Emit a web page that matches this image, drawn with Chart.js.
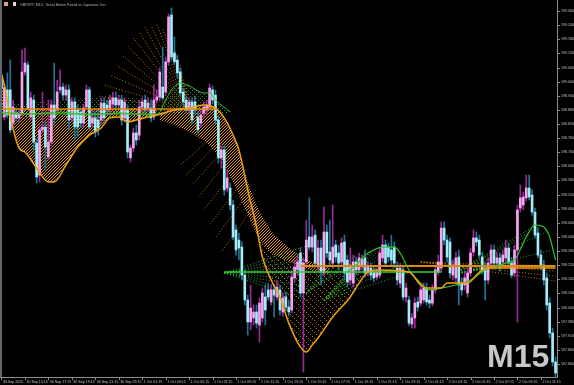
<!DOCTYPE html>
<html>
<head>
<meta charset="utf-8">
<title>GBPJPY, M15</title>
<script src="https://cdn.jsdelivr.net/npm/chart.js@4.4.1/dist/chart.umd.min.js"></script>
<style>
  html, body { margin: 0; padding: 0; background: #000; }
  #chart { display: block; }
</style>
</head>
<body>
<canvas id="chart" width="574" height="385"></canvas>
<script>
// GBPJPY M15 candles, first bar 30 Sep 13:15
const open = [
  199.007,198.850,198.965,198.965,198.824,198.867,198.846,198.867,199.041,199.071,
  198.850,198.922,198.739,198.603,198.795,198.807,198.680,198.744,198.901,198.880,
  198.965,198.977,198.943,198.965,198.846,198.914,198.880,198.871,198.824,198.892,
  198.965,198.824,198.846,198.837,198.837,198.909,198.901,198.880,198.905,198.931,
  198.901,198.922,198.846,198.880,198.676,198.718,198.782,198.773,198.892,198.922,
  198.888,198.888,198.850,198.922,198.935,198.977,198.956,199.084,199.283,199.122,
  199.092,199.041,198.956,198.922,198.880,198.914,198.914,198.850,198.824,198.867,
  198.880,198.892,198.965,198.943,198.837,198.676,198.710,198.548,198.548,198.476,
  198.370,198.327,198.297,198.178,198.072,197.979,197.996,198.021,197.966,197.996,
  198.085,198.115,198.064,198.115,198.085,198.115,198.021,198.085,198.042,198.030,
  198.166,198.200,198.272,198.102,198.234,198.340,198.297,198.348,198.212,198.293,
  198.187,198.361,198.276,198.229,198.306,198.272,198.234,198.319,198.242,198.157,
  198.144,198.234,198.200,198.221,198.251,198.191,198.208,198.191,198.170,198.178,
  198.251,198.306,198.297,198.285,198.297,198.208,198.144,198.200,198.085,198.072,
  197.970,197.996,198.064,198.059,198.072,198.123,198.072,198.059,198.115,198.191,
  198.208,198.378,198.327,198.319,198.178,198.166,198.255,198.144,198.136,198.102,
  198.187,198.276,198.336,198.327,198.255,198.208,198.157,198.229,198.285,198.229,
  198.251,198.234,198.251,198.293,198.229,198.187,198.285,198.463,198.476,198.506,
  198.548,198.518,198.446,198.357,198.263,198.221,198.166,198.059,197.932,197.809
]
const high = [
  199.028,198.986,199.037,199.092,198.922,198.888,198.880,199.135,199.143,199.084,
  198.956,198.943,198.761,198.816,198.956,198.829,198.922,198.922,199.079,199.007,
  199.050,198.994,198.986,198.986,198.931,198.931,198.901,198.888,198.905,198.986,
  198.977,198.880,198.871,198.880,198.931,198.931,198.922,198.943,198.956,198.956,
  198.943,198.943,198.931,198.901,198.731,198.803,198.816,198.922,198.931,198.943,
  198.931,198.922,198.986,198.965,199.058,199.147,199.105,199.288,199.313,199.190,
  199.113,199.058,198.973,198.939,198.931,198.931,198.939,198.871,198.880,198.914,
  198.922,198.990,198.982,198.965,198.858,198.731,198.731,198.625,198.569,198.497,
  198.391,198.357,198.319,198.200,198.093,198.136,198.051,198.051,198.081,198.123,
  198.136,198.144,198.136,198.136,198.157,198.136,198.102,198.106,198.072,198.200,
  198.242,198.263,198.293,198.251,198.412,198.506,198.391,198.370,198.327,198.327,
  198.467,198.391,198.412,198.476,198.327,198.306,198.336,198.348,198.263,198.293,
  198.263,198.255,198.272,198.263,198.285,198.234,198.229,198.217,198.208,198.293,
  198.348,198.327,198.314,198.348,198.319,198.234,198.229,198.221,198.144,198.089,
  198.013,198.081,198.085,198.136,198.144,198.144,198.093,198.136,198.221,198.263,
  198.404,198.404,198.348,198.336,198.242,198.276,198.285,198.166,198.191,198.208,
  198.293,198.370,198.361,198.348,198.276,198.234,198.251,198.306,198.306,198.276,
  198.272,198.285,198.327,198.314,198.251,198.306,198.476,198.561,198.531,198.603,
  198.603,198.540,198.463,198.378,198.285,198.242,198.187,198.081,197.953,197.830
]
const low = [
  198.956,198.837,198.846,198.782,198.807,198.833,198.829,198.854,199.028,198.880,
  198.837,198.710,198.569,198.574,198.782,198.625,198.667,198.731,198.816,198.867,
  198.952,198.922,198.922,198.795,198.829,198.752,198.765,198.807,198.807,198.880,
  198.795,198.807,198.765,198.773,198.816,198.829,198.858,198.858,198.888,198.880,
  198.880,198.816,198.829,198.676,198.659,198.701,198.731,198.752,198.871,198.867,
  198.871,198.829,198.837,198.909,198.922,198.922,198.943,199.071,199.092,199.071,
  199.016,198.939,198.897,198.867,198.863,198.820,198.863,198.778,198.807,198.850,
  198.863,198.880,198.905,198.820,198.654,198.633,198.518,198.531,198.455,198.327,
  198.263,198.242,198.157,198.051,197.923,197.945,197.966,197.953,197.894,197.979,
  197.966,198.072,198.051,198.000,198.072,198.008,198.004,198.030,198.004,198.017,
  198.149,198.178,198.085,197.766,198.221,198.285,198.276,198.208,198.191,198.136,
  198.174,198.251,198.221,198.208,198.234,198.200,198.217,198.157,198.127,198.136,
  198.127,198.178,198.187,198.200,198.170,198.174,198.157,198.149,198.157,198.166,
  198.234,198.212,198.234,198.221,198.208,198.136,198.123,198.072,198.064,197.962,
  197.953,197.953,198.025,198.047,198.059,198.051,198.038,198.047,198.102,198.178,
  198.191,198.306,198.234,198.166,198.157,198.149,198.051,198.093,198.115,198.085,
  198.174,198.259,198.302,198.251,198.183,198.072,198.140,198.212,198.208,198.212,
  198.195,198.217,198.234,198.212,198.166,198.170,197.979,198.446,198.455,198.493,
  198.497,198.433,198.336,198.251,198.200,198.136,198.030,197.911,197.792,197.745
]
const close = [
  198.973,198.973,198.858,198.795,198.892,198.846,198.863,199.041,199.079,198.888,
  198.931,198.744,198.595,198.795,198.807,198.722,198.744,198.901,198.846,198.956,
  198.977,198.943,198.965,198.837,198.914,198.807,198.807,198.824,198.888,198.965,
  198.807,198.846,198.786,198.803,198.909,198.846,198.880,198.922,198.931,198.901,
  198.922,198.837,198.914,198.701,198.718,198.782,198.752,198.892,198.914,198.880,
  198.909,198.846,198.922,198.935,199.041,198.931,199.084,199.275,199.105,199.084,
  199.037,198.952,198.914,198.880,198.914,198.837,198.880,198.795,198.858,198.892,
  198.901,198.973,198.922,198.837,198.676,198.710,198.540,198.591,198.476,198.340,
  198.285,198.293,198.178,198.072,197.979,198.038,198.021,197.974,198.059,198.102,
  198.030,198.085,198.115,198.093,198.127,198.030,198.081,198.042,198.021,198.170,
  198.212,198.234,198.102,198.229,198.327,198.297,198.340,198.229,198.293,198.191,
  198.361,198.272,198.242,198.297,198.255,198.229,198.314,198.187,198.149,198.221,
  198.234,198.200,198.251,198.246,198.187,198.212,198.178,198.166,198.191,198.272,
  198.306,198.229,198.255,198.242,198.229,198.157,198.208,198.085,198.123,197.974,
  197.996,198.059,198.042,198.115,198.123,198.064,198.059,198.115,198.200,198.234,
  198.378,198.327,198.255,198.187,198.221,198.251,198.136,198.115,198.166,198.187,
  198.272,198.336,198.319,198.263,198.200,198.157,198.229,198.285,198.229,198.251,
  198.212,198.263,198.293,198.229,198.178,198.285,198.455,198.506,198.510,198.548,
  198.510,198.446,198.348,198.263,198.221,198.157,198.051,197.932,197.809,197.762
]

const timeLabels = ['30 Sep 2025','30 Sep 15:15','30 Sep 17:15','30 Sep 19:15','30 Sep 21:15','30 Sep 23:15',
  '1 Oct 01:15','1 Oct 03:15','1 Oct 05:15','1 Oct 07:15','1 Oct 09:15','1 Oct 11:15','1 Oct 13:15',
  '1 Oct 15:15','1 Oct 17:15','1 Oct 19:15','1 Oct 21:15','1 Oct 23:15','2 Oct 01:15','2 Oct 03:15',
  '2 Oct 05:15','2 Oct 07:15','2 Oct 09:15','2 Oct 11:15']
const timeLabelBars = [0,8,16,24,32,40,48,56,64,72,80,88,96,104,112,120,128,136,144,152,160,168,176,184]
const priceTicks = [199.300,199.240,199.180,199.120,199.060,199.000,198.940,198.880,198.820,198.760,
  198.700,198.640,198.580,198.520,198.460,198.400,198.340,198.280,198.220,198.160,198.100,198.040,
  197.980,197.920,197.860,197.800]

// orange average line
const maBars = [0,1,3,6,8,12,16,18,22,26,30,34,37,40,43,46,50,53,59,64,69,73,76,79,81,84,87,89,92,95,
  98,102,104,106,108,113,119,122,125,129,139,143,145,150,152,159,163,166,170,189]
const maPrices = [199.033,198.986,198.850,198.718,198.701,198.633,198.574,198.574,198.646,198.722,
  198.773,198.803,198.846,198.850,198.829,198.837,198.850,198.858,198.880,198.888,
  198.901,198.888,198.846,198.773,198.710,198.540,198.382,198.255,198.157,198.085,
  197.974,197.872,197.851,197.881,197.911,198.000,198.085,198.144,198.191,198.200,
  198.191,198.136,198.123,198.123,198.144,198.144,198.191,198.208,198.208,198.208]

// green line, two pieces
const greenBarsA = [0,10,20,30,40,50,53,56,58,61,64,69,71,73,78]
const greenA = [198.871,198.863,198.871,198.858,198.867,198.858,198.858,198.922,198.965,198.994,
  198.982,198.952,198.952,198.922,198.871]
const greenBarsB = [118,121,124,127,130,134,136,139,143,146,150,155,160,165,168,172,175,179,182,185,187,189]
const greenB = [198.191,198.221,198.263,198.285,198.297,198.297,198.272,198.200,198.144,198.115,
  198.123,198.136,198.157,198.200,198.212,198.229,198.242,198.340,198.391,198.382,198.340,198.242]

// flat levels
const levelOrangeLeft = 198.884
const levelGreenLeft = 198.863
const levelOrangeRight = 198.217
const levelGreenRight = 198.191

// dotted band going down
const bandBars = [54,59,64,69,73,76,79,81,84,88,93,99,105,112]
const bandTop = [198.867,198.880,198.888,198.901,198.888,198.846,198.773,198.710,198.574,198.446,
  198.348,198.285,198.238,198.208]
const bandBottom = [198.837,198.816,198.786,198.752,198.701,198.646,198.574,198.518,198.433,198.327,
  198.263,198.229,198.200,198.178]
const vBars = [84,88,93,99,105,112,125]
const vTop = [198.433,198.327,198.263,198.229,198.200,198.178,198.191]
const greenBandBars = [0,20,30,40,53]
const greenBand = [198.905,198.922,198.931,198.935,198.922]

// dotted fans
const sailRoot = [64, 198.880]
const sailBars = [31,33,35,37,39,41,43,45,47,49,51,53,55,57,59,61,63]
const sailPrices = [198.871,198.939,198.986,199.028,199.071,199.113,199.152,199.186,199.211,199.232,
  199.241,199.245,199.228,199.194,199.143,199.071,198.986]
const raysFromBars = [70,72,74,76,78,80,82,84]
const raysFrom = [198.744,198.714,198.684,198.646,198.595,198.540,198.489,198.433]
const raysToBars = [61,63,65,67,69,71,73,75]
const raysTo = [198.646,198.603,198.561,198.506,198.455,198.391,198.336,198.276]
const fanG1Root = [76, 198.187]
const fanG1Bars = [105,105,105,105,105,105,105,105,105]
const fanG1 = [198.306,198.276,198.246,198.217,198.187,198.157,198.127,198.098,198.068]
const fanG2Root = [110, 198.072]
const fanG2Bars = [118,120,122,124,126,128,130,132,134,136,138,140]
const fanG2 = [198.191,198.208,198.234,198.263,198.276,198.289,198.297,198.297,198.297,198.272,198.234,198.191]
const fanG2bRoot = [104, 198.102]
const fanG2bBars = [112,115,118,121,124,127]
const fanG2b = [198.234,198.251,198.259,198.263,198.272,198.285]
const fanG3Root = [153, 198.178]
const fanG3Bars = [166,168,170,172,174,176,178,180,182,184,186,188]
const fanG3 = [198.208,198.212,198.217,198.229,198.238,198.259,198.302,198.348,198.387,198.387,198.361,198.285]
const fanO3Root = [143, 198.234]
const fanO3Bars = [189,189,189,189]
const fanO3 = [198.217,198.195,198.174,198.153]

const pts = (xs, ys) => xs.map((x, i) => ({ x: x, y: ys[i] }))

function dots(size, cells, color) {
  const c = document.createElement('canvas')
  c.width = size
  c.height = size
  const g = c.getContext('2d')
  g.fillStyle = color
  cells.forEach(([x, y]) => g.fillRect(x, y, 1, 1))
  return g.createPattern(c, 'repeat')
}

const orangeDense = dots(3, [[0, 0], [2, 1], [1, 2]], 'rgba(226,146,20,1)')
const orangeSparse = dots(6, [[0, 0], [2, 2], [4, 4]], 'rgba(206,126,18,0.9)')
const greenDots = dots(4, [[0, 2], [2, 0]], 'rgba(40,170,40,0.85)')

function area(xs, ys, fill, pattern) {
  return { type: 'line', data: pts(xs, ys), fill: fill, backgroundColor: pattern,
    borderColor: 'rgba(0,0,0,0)', borderWidth: 0, pointRadius: 0, order: 10 }
}
function line(xs, ys, color, width, extra) {
  return Object.assign({ type: 'line', data: pts(xs, ys), borderColor: color, borderWidth: width,
    pointRadius: 0, fill: false, order: 2 }, extra || {})
}
function fan(root, bars, prices, color) {
  return bars.map((b, i) => ({ type: 'line', data: [{ x: root[0], y: root[1] }, { x: b, y: prices[i] }],
    borderColor: color, borderWidth: 1, borderDash: [1, 2], pointRadius: 0, fill: false, order: 9 }))
}

const ORANGE = '#f0a010'
const GREEN = '#2fc42f'
const dottedOrange = 'rgba(214,132,16,0.9)'
const dottedGreen = 'rgba(50,185,50,0.9)'

const datasets = []
const maIndex = datasets.length
datasets.push(line(maBars, maPrices, ORANGE, 1.5, { cubicInterpolationMode: 'monotone', order: 1 }))
datasets.push(line(greenBarsA, greenA, GREEN, 1, { cubicInterpolationMode: 'monotone' }))
datasets.push(line(greenBarsB, greenB, GREEN, 1.2, { cubicInterpolationMode: 'monotone' }))
datasets.push(line([0, 73], [levelOrangeLeft, levelOrangeLeft], '#e08a0c', 1.5, { order: 3 }))
datasets.push(line([0, 56], [levelGreenLeft, levelGreenLeft], '#28b428', 1, { order: 3 }))
datasets.push(line([102, 189], [levelOrangeRight, levelOrangeRight], '#e08a0c', 2, { order: 3 }))
datasets.push(line([76, 150], [levelGreenRight, levelGreenRight], '#36d236', 1.5, { order: 3 }))

// pattern areas
datasets.push(area(maBars.slice(0, 18), maPrices.slice(0, 18), { value: levelOrangeLeft }, orangeDense))
datasets.push(area(bandBars, bandTop, '+1', orangeDense))
datasets.push(area(bandBars, bandBottom, false, orangeDense))
datasets.push(area(vBars, vTop, maIndex, orangeSparse))
datasets.push(area(greenBarsA.slice(6), greenA.slice(6), { value: 198.867 }, greenDots))
datasets.push(area(greenBandBars, greenBand, { value: 198.846 }, greenDots))

// fans
fan(sailRoot, sailBars, sailPrices, dottedOrange).forEach(d => datasets.push(d))
raysFromBars.forEach((b, i) => datasets.push({ type: 'line',
  data: [{ x: b, y: raysFrom[i] }, { x: raysToBars[i], y: raysTo[i] }],
  borderColor: dottedOrange, borderWidth: 1, borderDash: [1, 2], pointRadius: 0, fill: false, order: 9 }))
fan(fanG1Root, fanG1Bars, fanG1, dottedGreen).forEach(d => datasets.push(d))
fan(fanG2Root, fanG2Bars, fanG2, dottedGreen).forEach(d => datasets.push(d))
fan(fanG2bRoot, fanG2bBars, fanG2b, dottedGreen).forEach(d => datasets.push(d))
fan(fanG3Root, fanG3Bars, fanG3, dottedGreen).forEach(d => datasets.push(d))
fan(fanO3Root, fanO3Bars, fanO3, dottedOrange).forEach(d => datasets.push(d))

// candles: wick then body
const bars = open.map((o, i) => i)
const bull = bars.map(i => close[i] >= open[i])
datasets.push({ type: 'bar', data: bars.map(i => ({ x: i, y: [low[i], high[i]] })),
  backgroundColor: bars.map(i => bull[i] ? '#9a2a9a' : '#1f7496'),
  barThickness: 1, grouped: false, order: 8 })
datasets.push({ type: 'bar', data: bars.map(i => ({ x: i, y: [open[i], close[i]] })),
  backgroundColor: bars.map(i => bull[i] ? '#f4a6f0' : '#a4ecfa'),
  barThickness: 2, grouped: false, minBarLength: 1, order: 7 })

const mtFrame = {
  id: 'mtFrame',
  beforeDraw(chart) {
    const ctx = chart.ctx
    ctx.save()
    ctx.fillStyle = '#000'
    ctx.fillRect(0, 0, chart.width, chart.height)
    ctx.restore()
  },
  afterDraw(chart) {
    const { ctx, chartArea: a } = chart
    const x = chart.scales.x
    const y = chart.scales.y
    ctx.save()
    ctx.fillStyle = '#5c686e'
    ctx.fillRect(0, 0, 2, a.bottom)

    ctx.strokeStyle = '#8c8c8c'
    ctx.lineWidth = 1
    ctx.beginPath()
    ctx.moveTo(a.right + 0.5, 0)
    ctx.lineTo(a.right + 0.5, a.bottom + 0.5)
    ctx.lineTo(0, a.bottom + 0.5)
    priceTicks.forEach(v => {
      const py = Math.round(y.getPixelForValue(v)) + 0.5
      ctx.moveTo(a.right, py)
      ctx.lineTo(a.right + 3, py)
    })
    timeLabelBars.forEach(b => {
      const px = Math.round(x.getPixelForValue(b)) + 0.5
      ctx.moveTo(px, a.bottom)
      ctx.lineTo(px, a.bottom + 3)
    })
    ctx.stroke()

    ctx.fillStyle = '#c4c4c4'
    ctx.font = '3.6px "Liberation Sans", Arial, sans-serif'
    ctx.textBaseline = 'middle'
    ctx.textAlign = 'left'
    priceTicks.forEach(v => ctx.fillText(v.toFixed(3), a.right + 4, y.getPixelForValue(v)))
    timeLabels.forEach((t, k) => ctx.fillText(t, x.getPixelForValue(timeLabelBars[k]) + 1.5, a.bottom + 5))

    // title
    ctx.fillStyle = '#e29a9a'
    ctx.fillRect(4, 2, 4, 4)
    ctx.fillStyle = '#f2cccc'
    ctx.fillRect(13, 2, 3, 4)
    ctx.fillStyle = '#b4b4b4'
    ctx.fillText('GBPJPY, M15:  Great Britain Pound vs Japanese Yen', 20, 4.5)

    // timeframe mark
    ctx.fillStyle = '#c8c8c8'
    ctx.font = 'bold 32px "Liberation Sans", Arial, sans-serif'
    ctx.textBaseline = 'alphabetic'
    ctx.fillText('M15', 487, 367)
    ctx.restore()
  }
}

new Chart(document.getElementById('chart').getContext('2d'), {
  type: 'bar',
  data: { datasets: datasets },
  options: {
    responsive: false,
    animation: false,
    devicePixelRatio: 1,
    layout: { padding: { left: 0, top: 0, right: 17, bottom: 8 } },
    plugins: { legend: { display: false }, tooltip: { enabled: false } },
    scales: {
      x: { type: 'linear', display: false, min: -0.5, max: 189.5, offset: false },
      y: { type: 'linear', display: false, min: 197.745, max: 199.347 }
    }
  },
  plugins: [mtFrame]
})
</script>
</body>
</html>
